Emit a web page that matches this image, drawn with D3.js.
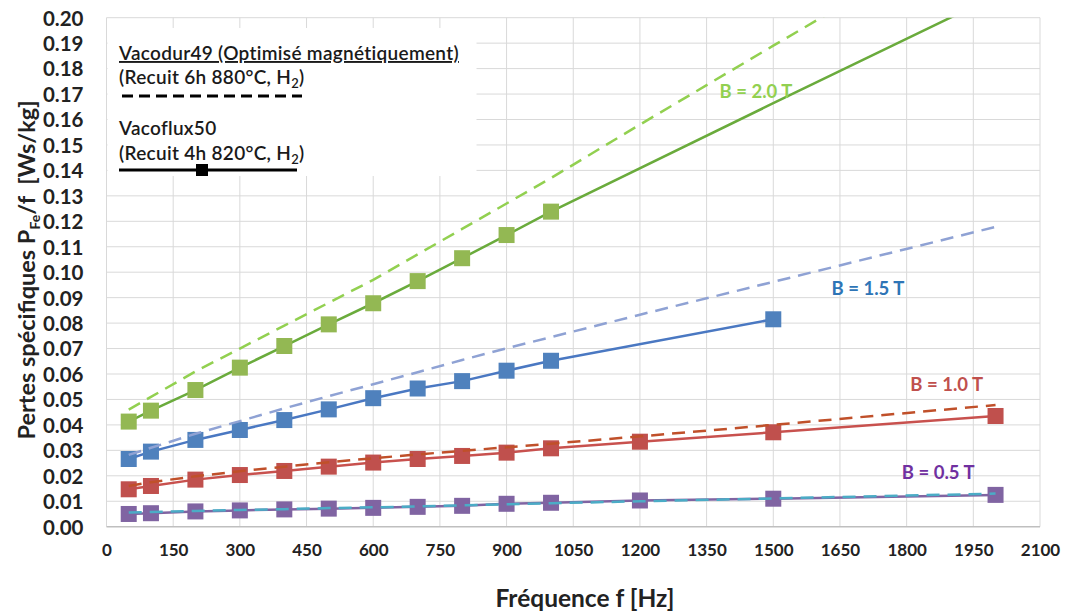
<!DOCTYPE html>
<html><head><meta charset="utf-8">
<script src="https://cdn.jsdelivr.net/npm/d3@7"></script>
<style>
html,body{margin:0;padding:0;background:#fff;}
svg text{font-family:Lato,"Open Sans",sans-serif;}
</style></head>
<body>
<svg id="chart" width="1068" height="614"></svg>
<script>
// ---------- data ----------
const xTicks = [0,150,300,450,600,750,900,1050,1200,1350,1500,1650,1800,1950,2100];
const yTicks = [0,0.01,0.02,0.03,0.04,0.05,0.06,0.07,0.08,0.09,0.10,0.11,0.12,0.13,0.14,0.15,0.16,0.17,0.18,0.19,0.20];

const freqsAll = [50,100,200,300,400,500,600,700,800,900,1000,1200,1500,2000];
const freqsB20 = [50,100,200,300,400,500,600,700,800,900,1000];
const freqsB15 = [50,100,200,300,400,500,600,700,800,900,1000,1500];

// Vacoflux50 (measured, solid + squares)
const vfB20 = [0.0413,0.0456,0.0537,0.0625,0.0710,0.0795,0.0878,0.0965,0.1055,0.1146,0.1238];
const vfB20ExtFreqs = [1000,1500,2000];
const vfB20Ext = [0.1238,0.1664,0.2086];
const vfB15 = [0.0266,0.0295,0.0341,0.0380,0.0419,0.0461,0.0505,0.0543,0.0572,0.0613,0.0652,0.0815];
const vfB10 = [0.0147,0.0160,0.0185,0.0203,0.0219,0.0236,0.0252,0.0266,0.0278,0.0291,0.0308,0.0334,0.0371,0.0435];
const vfB05 = [0.0050,0.0053,0.0060,0.0064,0.0068,0.0071,0.0074,0.0078,0.0082,0.0090,0.0094,0.0103,0.0110,0.0125];

// Vacodur49 (dashed)
const vdB20 = [0.046,0.051,0.061,0.070,0.079,0.088,0.097,0.107,0.117,0.127,0.137,0.158,0.189,0.240];
const vdB15 = [0.0282,0.0310,0.0365,0.0415,0.0465,0.0513,0.0560,0.0607,0.0655,0.0701,0.0745,0.0833,0.0962,0.1178];
const vdB10 = [0.0160,0.0175,0.0198,0.0218,0.0236,0.0253,0.0269,0.0284,0.0298,0.0312,0.0326,0.0355,0.0400,0.0478];
const vdB05 = [0.0056,0.0058,0.0062,0.0066,0.0069,0.0073,0.0076,0.0080,0.0084,0.0088,0.0092,0.0100,0.0111,0.0130];

const labelTexts = ["B = 2.0 T","B = 1.5 T","B = 1.0 T","B = 0.5 T"];
const labelFreqs = [1461,1713,1890,1871];
const labelVals  = [0.1708,0.0937,0.0557,0.0211];

// ---------- layout ----------
const svg = d3.select("#chart");
const L = 106.5, R = 1040, T = 17.7, B = 526.7;
const x = d3.scaleLinear().domain([0,2100]).range([L,R]);
const y = d3.scaleLinear().domain([0,0.20]).range([B,T]);

const colors = {
  g:"#93b853", gl:"#6aab3c", gd:"#92d050",
  b:"#4f81bd", bl:"#4a78c2", bd:"#8fa2d4",
  r:"#c0504d", rl:"#c8514e", rd:"#c0502a",
  p:"#8064a2", pl:"#8064a2", pd:"#4bacc6"
};
const labelColors = ["#92d050","#2e75b6","#c0504d","#7030a0"];

// gridlines
svg.append("g").selectAll("line").data(yTicks.slice(1)).join("line")
  .attr("x1",L).attr("x2",R).attr("y1",d=>y(d)).attr("y2",d=>y(d))
  .attr("stroke","#d9d9d9").attr("stroke-width",1);
svg.append("g").selectAll("line").data(xTicks).join("line")
  .attr("x1",d=>x(d)).attr("x2",d=>x(d)).attr("y1",T).attr("y2",B)
  .attr("stroke","#d9d9d9").attr("stroke-width",1);

// axes
const yAxis = d3.axisLeft(y).tickValues(yTicks).tickFormat(d3.format(".2f")).tickSize(0).tickPadding(0);
const gy = svg.append("g").attr("transform",`translate(${L-23},0)`).call(yAxis);
gy.select(".domain").remove();
gy.selectAll("text").attr("font-size",20.5).attr("font-weight",700).attr("fill","#222").attr("dy","0.36em");

const xAxis = d3.axisBottom(x).tickValues(xTicks).tickFormat(d3.format("d")).tickSize(0).tickPadding(0);
const gx = svg.append("g").attr("transform",`translate(0,${B+17})`).call(xAxis);
gx.select(".domain").remove();
gx.selectAll("text").attr("font-size",17).attr("font-weight",700).attr("fill","#222").attr("dy","0.72em");

svg.append("line").attr("x1",L).attr("x2",R).attr("y1",B).attr("y2",B)
  .attr("stroke","#bfbfbf").attr("stroke-width",1.5);

// clip
svg.append("clipPath").attr("id","plotclip").append("rect")
  .attr("x",L).attr("y",T).attr("width",R-L).attr("height",B-T);
const plot = svg.append("g").attr("clip-path","url(#plotclip)");

const line = d3.line().x(d=>x(d[0])).y(d=>y(d[1]));
const zip = (fs,vs)=>fs.map((f,i)=>[f,vs[i]]);

// legend white box (drawn over gridlines)
svg.append("rect").attr("x",L+1).attr("y",28).attr("width",369).attr("height",148).attr("fill","#fff");

// solid lines
const solid = [
  {pts:zip(freqsB20,vfB20).concat(zip(vfB20ExtFreqs,vfB20Ext).slice(1)), c:colors.gl},
  {pts:zip(freqsB15,vfB15), c:colors.bl},
  {pts:zip(freqsAll,vfB10), c:colors.rl},
  {pts:zip(freqsAll,vfB05), c:colors.pl}
];
plot.selectAll(".solid").data(solid).join("path").attr("class","solid")
  .attr("d",d=>line(d.pts)).attr("fill","none").attr("stroke",d=>d.c).attr("stroke-width",2.5);

// markers
const markers = [
  {pts:zip(freqsB20,vfB20), c:colors.g},
  {pts:zip(freqsB15,vfB15), c:colors.b},
  {pts:zip(freqsAll,vfB10), c:colors.r},
  {pts:zip(freqsAll,vfB05), c:colors.p}
];
const ms = 16;
markers.forEach(m=>{
  plot.append("g").selectAll("rect").data(m.pts).join("rect")
    .attr("x",d=>x(d[0])-ms/2).attr("y",d=>y(d[1])-ms/2)
    .attr("width",ms).attr("height",ms).attr("fill",m.c);
});

// dashed lines
const dashed = [
  {v:vdB20,c:colors.gd},{v:vdB15,c:colors.bd},{v:vdB10,c:colors.rd},{v:vdB05,c:colors.pd}
];
plot.selectAll(".dashed").data(dashed).join("path").attr("class","dashed")
  .attr("d",d=>line(zip(freqsAll,d.v))).attr("fill","none").attr("stroke",d=>d.c)
  .attr("stroke-width",2.5).attr("stroke-dasharray","13,8");

// series labels
svg.append("g").selectAll("text").data(labelTexts).join("text")
  .attr("x",(d,i)=>x(labelFreqs[i])).attr("y",(d,i)=>y(labelVals[i]))
  .attr("dy","0.35em").attr("text-anchor","middle")
  .attr("font-size",18.5).attr("font-weight",700)
  .attr("fill",(d,i)=>labelColors[i]).text(d=>d);

// legend
const lg = svg.append("g").attr("fill","#1a1a1a").attr("font-size",19).attr("font-weight",600)
  .attr("letter-spacing",0.3);
lg.append("text").attr("x",119).attr("y",60).attr("text-decoration","underline")
  .text("Vacodur49 (Optimisé magnétiquement)");
const t2 = lg.append("text").attr("x",119).attr("y",84);
t2.append("tspan").text("(Recuit 6h 880°C, H");
t2.append("tspan").attr("font-size",13).attr("dy",4).text("2");
t2.append("tspan").attr("dy",-4).text(")");
lg.append("line").attr("x1",122).attr("x2",302).attr("y1",96).attr("y2",96)
  .attr("stroke","#000").attr("stroke-width",3).attr("stroke-dasharray","11,6");
lg.append("text").attr("x",119).attr("y",135).text("Vacoflux50");
const t4 = lg.append("text").attr("x",119).attr("y",160);
t4.append("tspan").text("(Recuit 4h 820°C, H");
t4.append("tspan").attr("font-size",13).attr("dy",4).text("2");
t4.append("tspan").attr("dy",-4).text(")");
lg.append("line").attr("x1",119).attr("x2",297).attr("y1",170).attr("y2",170)
  .attr("stroke","#000").attr("stroke-width",3);
lg.append("rect").attr("x",202-6).attr("y",170-6).attr("width",12).attr("height",12).attr("fill","#000");

// axis titles
const yt = svg.append("text").attr("transform","translate(35,270) rotate(-90)")
  .attr("text-anchor","middle").attr("font-size",23.5).attr("font-weight",700).attr("fill","#222");
yt.append("tspan").text("Pertes spécifiques P");
yt.append("tspan").attr("font-size",14).attr("dy",5).text("Fe");
yt.append("tspan").attr("dy",-5).text("/f\u00a0\u00a0[Ws/kg]");

svg.append("text").attr("x",585).attr("y",607).attr("text-anchor","middle")
  .attr("font-size",24.5).attr("font-weight",700).attr("fill","#222").text("Fréquence f [Hz]");
</script>
</body></html>
